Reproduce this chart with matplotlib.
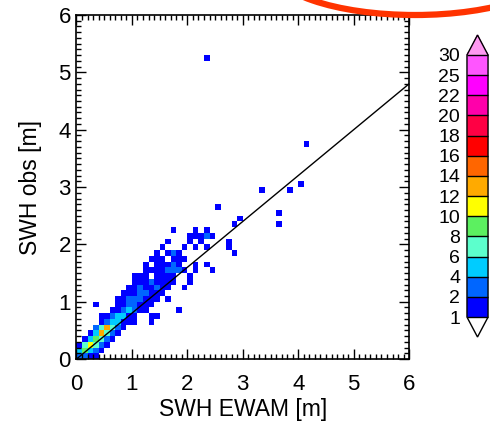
import numpy as np
import matplotlib
matplotlib.use("Agg")
import matplotlib.pyplot as plt
from matplotlib.colors import ListedColormap, BoundaryNorm
from matplotlib.ticker import MultipleLocator
from matplotlib.patches import Ellipse

plt.rcParams["font.family"] = ["Liberation Sans", "DejaVu Sans"]

# 2D histogram cells: lower-left corner of each 0.1 m bin (EWAM, obs) and its count
cell_x = [
    0.0, 0.1, 0.2, 0.3,
    0.0, 0.1, 0.2, 0.3, 0.4,
    0.0, 0.1, 0.2, 0.3, 0.4, 0.5,
    0.1, 0.2, 0.3, 0.4, 0.5, 0.6,
    0.2, 0.3, 0.4, 0.5, 0.6, 0.7,
    0.3, 0.4, 0.5, 0.6, 0.7, 0.8,
    0.4, 0.5, 0.6, 0.7, 0.8, 0.9, 1.0, 1.3,
    0.4, 0.5, 0.6, 0.7, 0.8, 0.9, 1.0, 1.3, 1.4,
    0.6, 0.7, 0.8, 0.9, 1.0, 1.1, 1.2, 1.8,
    0.3, 0.7, 0.8, 0.9, 1.0, 1.1, 1.2, 1.3,
    0.7, 0.8, 0.9, 1.0, 1.1, 1.2, 1.3, 1.4, 1.6,
    0.8, 0.9, 1.0, 1.1, 1.2, 1.3, 1.4, 1.5,
    0.9, 1.0, 1.1, 1.2, 1.3, 1.4, 1.5, 1.6, 1.9,
    1.0, 1.1, 1.2, 1.3, 1.4, 1.5, 1.6, 1.7, 2.0,
    1.0, 1.1, 1.2, 1.4, 1.5, 1.6, 1.7, 2.0,
    1.2, 1.3, 1.4, 1.5, 1.6, 1.7, 1.8, 1.9, 2.1, 2.4,
    1.2, 1.4, 1.5, 1.6, 1.7, 1.8, 2.1, 2.3,
    1.3, 1.4, 1.5, 1.7, 1.8, 1.9,
    1.4, 1.6, 1.7, 1.8, 2.8,
    1.5, 1.9, 2.1, 2.3, 2.7,
    1.6, 2.0, 2.2, 2.7,
    2.0, 2.1, 2.2, 2.3, 2.4,
    1.7, 2.1, 2.3,
    2.8, 3.6,
    2.9,
    3.6,
    2.5,
    3.3, 3.8,
    4.0,
    4.1,
    2.3,
]
cell_y = [
    0.0, 0.0, 0.0, 0.0,
    0.1, 0.1, 0.1, 0.1, 0.1,
    0.2, 0.2, 0.2, 0.2, 0.2, 0.2,
    0.3, 0.3, 0.3, 0.3, 0.3, 0.3,
    0.4, 0.4, 0.4, 0.4, 0.4, 0.4,
    0.5, 0.5, 0.5, 0.5, 0.5, 0.5,
    0.6, 0.6, 0.6, 0.6, 0.6, 0.6, 0.6, 0.6,
    0.7, 0.7, 0.7, 0.7, 0.7, 0.7, 0.7, 0.7, 0.7,
    0.8, 0.8, 0.8, 0.8, 0.8, 0.8, 0.8, 0.8,
    0.9, 0.9, 0.9, 0.9, 0.9, 0.9, 0.9, 0.9,
    1.0, 1.0, 1.0, 1.0, 1.0, 1.0, 1.0, 1.0, 1.0,
    1.1, 1.1, 1.1, 1.1, 1.1, 1.1, 1.1, 1.1,
    1.2, 1.2, 1.2, 1.2, 1.2, 1.2, 1.2, 1.2, 1.2,
    1.3, 1.3, 1.3, 1.3, 1.3, 1.3, 1.3, 1.3, 1.3,
    1.4, 1.4, 1.4, 1.4, 1.4, 1.4, 1.4, 1.4,
    1.5, 1.5, 1.5, 1.5, 1.5, 1.5, 1.5, 1.5, 1.5, 1.5,
    1.6, 1.6, 1.6, 1.6, 1.6, 1.6, 1.6, 1.6,
    1.7, 1.7, 1.7, 1.7, 1.7, 1.7,
    1.8, 1.8, 1.8, 1.8, 1.8,
    1.9, 1.9, 1.9, 1.9, 1.9,
    2.0, 2.0, 2.0, 2.0,
    2.1, 2.1, 2.1, 2.1, 2.1,
    2.2, 2.2, 2.2,
    2.3, 2.3,
    2.4,
    2.5,
    2.6,
    2.9, 2.9,
    3.0,
    3.7,
    5.2,
]
cell_count = [
    3, 2, 1, 1,
    4, 9, 5, 2, 1,
    1, 6, 11, 7, 3, 1,
    1, 5, 8, 6, 3, 1,
    1, 5, 13, 7, 3, 1,
    2, 6, 13, 6, 2, 1,
    1, 3, 5, 4, 1, 1, 1, 1,
    1, 1, 3, 5, 4, 1, 1, 1, 1,
    1, 1, 3, 4, 3, 1, 1, 1,
    1, 1, 1, 3, 2, 1, 1, 1,
    1, 1, 2, 3, 2, 1, 1, 1, 1,
    1, 1, 1, 2, 3, 1, 1, 1,
    1, 1, 2, 1, 1, 2, 1, 1, 1,
    1, 1, 1, 2, 1, 1, 1, 1, 1,
    1, 1, 1, 1, 1, 1, 1, 1,
    1, 1, 1, 1, 2, 3, 2, 1, 1, 1,
    1, 1, 1, 1, 2, 1, 1, 1,
    1, 1, 1, 1, 1, 1,
    1, 1, 2, 1, 1,
    1, 1, 1, 1, 1,
    1, 1, 1, 1,
    1, 1, 1, 3, 1,
    1, 1, 1,
    1, 1,
    1,
    1,
    1,
    1, 1,
    1,
    1,
    1,
]

level_bounds = [1, 2, 4, 6, 8, 10, 12, 14, 16, 18, 20, 22, 25, 30]
level_colors = ["#0000ff", "#0066ff", "#00ccff", "#5cffcc", "#5cf060", "#ffff00",
                "#ffaa00", "#ff6600", "#ff0000", "#ff0044", "#ff00aa", "#ff00ff", "#ff55ff"]
over_color = "#ff99f2"
fit_slope = 0.8
bin_size = 0.1

cmap = ListedColormap(level_colors)
cmap.set_under("white")
cmap.set_over(over_color)
norm = BoundaryNorm(level_bounds, cmap.N)

edges = np.arange(0, 6 + bin_size / 2, bin_size)
grid = np.full((len(edges) - 1, len(edges) - 1), np.nan)
for x, y, c in zip(cell_x, cell_y, cell_count):
    grid[int(round(y / bin_size)), int(round(x / bin_size))] = c
grid = np.ma.masked_invalid(grid)

fig = plt.figure(figsize=(4.9, 4.28), dpi=100)
ax = fig.add_axes([0.156, 0.161, 0.679, 0.804])
mesh = ax.pcolormesh(edges, edges, grid, cmap=cmap, norm=norm)

xs = np.array([0, 6])
ax.plot(xs, fit_slope * xs, color="black", lw=1)

ax.set_xlim(0, 6)
ax.set_ylim(0, 6)
ax.set_xticks(range(7))
ax.set_yticks(range(7))
ax.xaxis.set_minor_locator(MultipleLocator(0.1))
ax.yaxis.set_minor_locator(MultipleLocator(0.1))
ax.tick_params(which="both", direction="in", top=True, right=True, labelsize=16, width=1)
ax.tick_params(which="major", length=7)
ax.tick_params(which="minor", length=3.5)
ax.tick_params(axis="x", pad=11)
ax.tick_params(axis="y", pad=4)
for s in ax.spines.values():
    s.set_linewidth(1.2)
ax.set_xlabel("SWH EWAM [m]", fontsize=16.5, labelpad=2)
ax.set_ylabel("SWH obs [m]", fontsize=16.5, labelpad=12)

cax = fig.add_axes([0.953, 0.2126, 0.043, 0.7056])
cb = fig.colorbar(mesh, cax=cax, extend="both", extendfrac=0.076,
                  drawedges=True, ticks=level_bounds, spacing="uniform")
cb.outline.set_linewidth(1)
cb.dividers.set_linewidth(1)
cax.yaxis.set_ticks_position("left")
cax.tick_params(length=0, labelsize=14, pad=5)

# red annotation ring cropped at the top right
fig.add_artist(Ellipse((415 / 490, 463 / 428), 290 / 490, 100 / 428,
                       transform=fig.transFigure, fill=False,
                       ec="#ff3300", lw=4.5, clip_on=False))

fig.savefig("out.png", dpi=100)
